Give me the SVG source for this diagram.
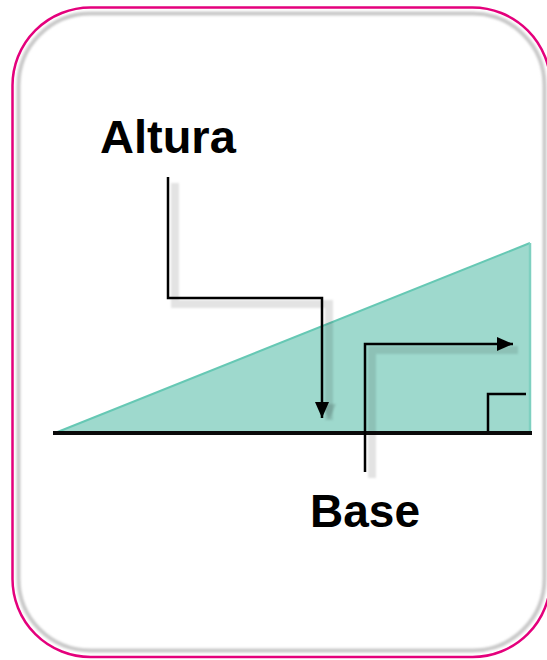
<svg xmlns="http://www.w3.org/2000/svg" width="547" height="660" viewBox="0 0 547 660">
  <style>
    .lbl { font-family: "Liberation Sans", Arial, sans-serif; font-weight: bold; fill: #000; }
    .conn { fill: none; stroke: #000; stroke-width: 2.5; }
    .shadow { fill: none; stroke: #000; stroke-opacity: 0.11; stroke-width: 8; filter: url(#soft); }
  </style>
  <defs>
    <filter id="soft" x="-10%" y="-10%" width="120%" height="120%">
      <feGaussianBlur stdDeviation="1.2"/>
    </filter>
    <marker id="arrow" viewBox="0 0 16 14" refX="16" refY="7" markerWidth="16" markerHeight="14" markerUnits="userSpaceOnUse" orient="auto">
      <path d="M0,0 L16,7 L0,14 Z" fill="#000"/>
    </marker>
    <marker id="arrowShadow" viewBox="0 0 16 14" refX="16" refY="7" markerWidth="16" markerHeight="14" markerUnits="userSpaceOnUse" orient="auto">
      <path d="M0,0 L16,7 L0,14 Z" fill="#000" fill-opacity="0.14"/>
    </marker>
  </defs>

  <rect width="547" height="660" fill="#ffffff"/>

  <g id="frame">
    <rect x="18.5" y="13.5" width="526" height="637" rx="72" fill="none" stroke="#c9c9c9" stroke-width="4" filter="url(#soft)"/>
    <rect x="12.5" y="7.5" width="538" height="649.5" rx="78" fill="none" stroke="#e4007c" stroke-width="2.5"/>
  </g>

  <g id="triangle">
    <polygon points="55,433 530,243 530,433" fill="#9ed9cd"/>
    <line x1="55" y1="433" x2="530" y2="243" stroke="#66c8b4" stroke-width="2"/>
    <line x1="530" y1="243" x2="530" y2="433" stroke="#7fd0c0" stroke-width="2.5"/>
    <path d="M488,433 V394 H526" fill="none" stroke="#000" stroke-width="2.5"/>
    <line x1="53" y1="433" x2="532" y2="433" stroke="#0a0a0a" stroke-width="4"/>
  </g>

  <g id="connectors">
    <path class="shadow" d="M175,183 V304 H329 V420" marker-end="url(#arrowShadow)"/>
    <path class="shadow" d="M372,478 V350 H518"/>
    <path class="conn" d="M168,177 V298 H322 V418" marker-end="url(#arrow)"/>
    <path class="conn" d="M365,472 V344 H513" marker-end="url(#arrow)"/>
  </g>

  <g id="altura">
    <text class="lbl" x="100" y="153" font-size="47">Altura</text>
  </g>

  <g id="base">
    <text class="lbl" x="310" y="527" font-size="46">Base</text>
  </g>
</svg>
